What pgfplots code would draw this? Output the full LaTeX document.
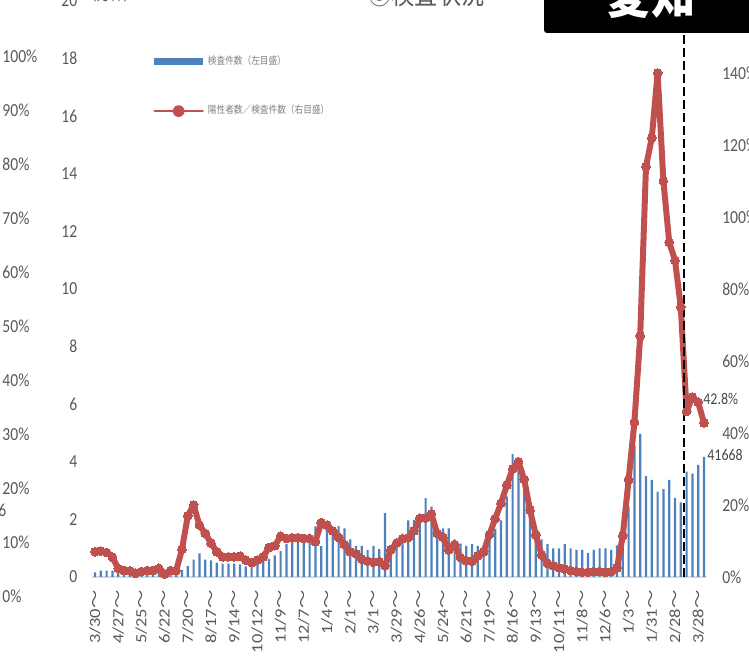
\documentclass[border=0pt]{standalone}
\usepackage{pgfplots}
\pgfplotsset{compat=1.18}
\usepackage{fontspec}
\setmainfont{Carlito}
\newfontfamily\lat{Carlito}[FakeStretch=0.85]
\newfontfamily\latR{Carlito}[FakeStretch=1.18]
\newfontfamily\jp{Noto Sans CJK JP}[FakeStretch=0.85]
\newfontfamily\jpR{Noto Sans CJK JP}[FakeStretch=1.18]
\definecolor{barblue}{RGB}{79,129,189}
\definecolor{linered}{RGB}{192,80,77}
\definecolor{tickgray}{RGB}{89,89,89}
\definecolor{leggray}{RGB}{128,128,128}
\definecolor{basegray}{RGB}{217,217,217}
\newcommand{\T}[1]{#1{\jpR ～}}

\pgfplotstableread{
i v
0 0.16
1 0.22
2 0.22
3 0.22
4 0.20
5 0.15
6 0.15
7 0.15
8 0.18
9 0.20
10 0.20
11 0.20
12 0.22
13 0.22
14 0.25
15 0.24
16 0.38
17 0.60
18 0.82
19 0.60
20 0.58
21 0.50
22 0.46
23 0.46
24 0.46
25 0.44
26 0.37
27 0.39
28 0.46
29 0.54
30 0.62
31 0.75
32 0.90
33 1.15
34 1.25
35 1.20
36 1.18
37 1.51
38 1.76
39 1.07
40 1.78
41 1.63
42 1.77
43 1.69
44 1.31
45 1.08
46 1.08
47 0.94
48 1.08
49 0.97
50 2.22
51 1.02
52 1.26
53 1.51
54 1.97
55 1.98
56 2.02
57 2.74
58 2.44
59 1.69
60 1.69
61 1.69
62 1.31
63 1.16
64 1.08
65 1.14
66 1.08
67 1.06
68 1.32
69 1.67
70 1.97
71 2.80
72 4.27
73 4.00
74 3.20
75 2.09
76 1.40
77 1.31
78 1.14
79 0.99
80 0.99
81 1.14
82 0.99
83 0.94
84 0.94
85 0.84
86 0.94
87 0.99
88 0.99
89 0.94
90 1.10
91 1.60
92 2.44
93 4.56
94 4.97
95 3.51
96 3.37
97 2.96
98 3.05
99 3.37
100 2.75
101 2.59
102 3.66
103 3.59
104 3.89
105 4.1668
}\tests

\pgfplotstableread{
i p
0 7.0
1 7.2
2 6.8
3 5.5
4 2.4
5 1.8
6 1.7
7 1.0
8 1.5
9 1.8
10 1.8
11 2.4
12 0.8
13 1.8
14 1.8
15 7.7
16 17.0
17 20.0
18 14.4
19 12.1
20 9.4
21 7.0
22 5.6
23 5.6
24 5.6
25 5.8
26 4.7
27 4.0
28 4.7
29 5.6
30 8.2
31 8.7
32 11.3
33 10.7
34 10.9
35 10.9
36 10.7
37 10.7
38 9.8
39 15.1
40 14.4
41 12.8
42 11.0
43 9.0
44 7.0
45 6.5
46 5.0
47 4.4
48 4.1
49 4.3
50 3.1
51 7.6
52 9.4
53 10.6
54 10.9
55 12.8
56 16.3
57 16.4
58 17.5
59 12.1
60 11.0
61 7.5
62 9.0
63 5.4
64 4.5
65 4.4
66 5.9
67 7.0
68 11.8
69 16.2
70 20.5
71 25.5
72 30.0
73 32.0
74 27.1
75 18.6
76 11.7
77 6.1
78 3.8
79 3.1
80 2.6
81 2.2
82 1.8
83 1.5
84 1.3
85 1.3
86 1.5
87 1.5
88 1.3
89 1.5
90 2.5
91 11.5
92 27.0
93 43.0
94 67.0
95 114.0
96 122.0
97 140.0
98 110.0
99 93.0
100 88.0
101 75.0
102 46.0
103 50.0
104 48.5
105 42.8
}\ratio

\begin{document}
\begin{tikzpicture}
\useasboundingbox (0,0) rectangle (374.5pt,331.5pt);
\clip (0,0) rectangle (374.5pt,331.5pt);
% left axis: tests (10k)
\begin{axis}[
  scale only axis, width=307.4pt, height=288pt,
  at={(46.05pt,43pt)}, anchor=south west,
  xmin=-0.5, xmax=105.5, ymin=0, ymax=20,
  axis line style={draw=none}, major tick length=0pt,
  ytick={0,2,...,20},
  yticklabels={0,2,4,6,8,10,12,14,16,18,20},
  yticklabel style={font=\lat\fontsize{9.2}{10}\selectfont, text=tickgray, anchor=east, inner sep=0pt},
  yticklabel shift=7.2pt,
  xtick={0,4,...,104},
  xticklabels={\T{3/30},\T{4/27},\T{5/25},\T{6/22},\T{7/20},\T{8/17},\T{9/14},\T{10/12},\T{11/9},\T{12/7},\T{1/4},\T{2/1},\T{3/1},\T{3/29},\T{4/26},\T{5/24},\T{6/21},\T{7/19},\T{8/16},\T{9/13},\T{10/11},\T{11/8},\T{12/6},\T{1/3},\T{1/31},\T{2/28},\T{3/28}},
  xticklabel style={font=\latR\fontsize{7.8}{9}\selectfont, text=tickgray, rotate=90, anchor=east, inner sep=0pt},
  xticklabel shift=6.5pt,
  clip=false,
]
\draw[basegray, line width=1pt] (axis cs:-0.5,0) -- (axis cs:105.5,0);
\addplot[ybar, bar width=1.1pt, fill=barblue, draw=none] table[x=i, y=v] {\tests};
\end{axis}
% right axis: positivity
\begin{axis}[
  scale only axis, width=307.4pt, height=288pt,
  at={(46.05pt,43pt)}, anchor=south west,
  xmin=-0.5, xmax=105.5, ymin=0, ymax=160,
  axis line style={draw=none}, major tick length=0pt,
  xtick=\empty,
  ytick={0,20,...,160},
  yticklabels={0\%,20\%,40\%,60\%,80\%,100\%,120\%,140\%,160\%},
  yticklabel pos=right,
  yticklabel style={font=\lat\fontsize{9.2}{10}\selectfont, text=tickgray, anchor=west, inner sep=0pt},
  yticklabel shift=7.5pt,
  clip=false,
  legend style={at={(axis description cs:0.099,0.913)}, anchor=north west, draw=none, fill=none,
    inner sep=0pt, font=\jp\fontsize{5.1}{6}\selectfont, text=leggray, row sep=15pt,
    cells={anchor=west}},
]
\addlegendimage{legend image code/.code={\fill[barblue] (0pt,-1.6pt) rectangle (24pt,1.6pt);}}
\addlegendentry{検査件数（左目盛）}
\addplot[color=linered, line width=3pt, line join=round, line cap=round, mark=*, mark size=2.2pt,
  mark options={fill=linered, draw=linered, line width=0pt},
  legend image code/.code={\draw[linered, line width=1.3pt] (0pt,0pt) -- (24pt,0pt); \fill[linered] (12pt,0pt) circle (1.5pt);}]
  table[x=i, y=p] {\ratio};
\addlegendentry{陽性者数／検査件数（右目盛）}
\draw[black, line width=1pt, dash pattern=on 4.5pt off 2pt] (axis cs:101.5,0) -- (axis cs:101.5,160);
\end{axis}
% annotations
\node[anchor=west, inner sep=0pt, font=\lat\fontsize{8.2}{9}\selectfont, text=tickgray!80!black] at (351.5pt,132pt) {42.8\%};
\node[anchor=west, inner sep=0pt, font=\lat\fontsize{8.2}{9}\selectfont, text=tickgray!80!black] at (353.5pt,104pt) {41668};
\fill[black, rounded corners=1.5pt] (272pt,315pt) rectangle (392pt,350pt);
\node[anchor=base, inner sep=0pt, text=white, font=\jp\bfseries\fontsize{26}{26}\selectfont] at (325.5pt,324.5pt) {愛知};
\node[anchor=base, inner sep=0pt, text=tickgray, font=\jp\fontsize{13.6}{14}\selectfont] at (213.25pt,329pt) {⑤検査状況};
\node[anchor=base west, inner sep=0pt, text=tickgray, font=\jp\fontsize{7.9}{8}\selectfont] at (41.5pt,331pt) {（万件）};
\foreach \k in {0,...,10} {
  \pgfmathtruncatemacro{\lab}{10*\k}
  \node[anchor=west, inner sep=0pt, text=tickgray, font=\lat\fontsize{9.2}{10}\selectfont] at (1pt,{33.5pt+27pt*\k}) {\lab\%};
}
\node[anchor=west, inner sep=0pt, text=tickgray, font=\lat\fontsize{9.2}{10}\selectfont] at (-1pt,76.5pt) {6};
\end{tikzpicture}
\end{document}
